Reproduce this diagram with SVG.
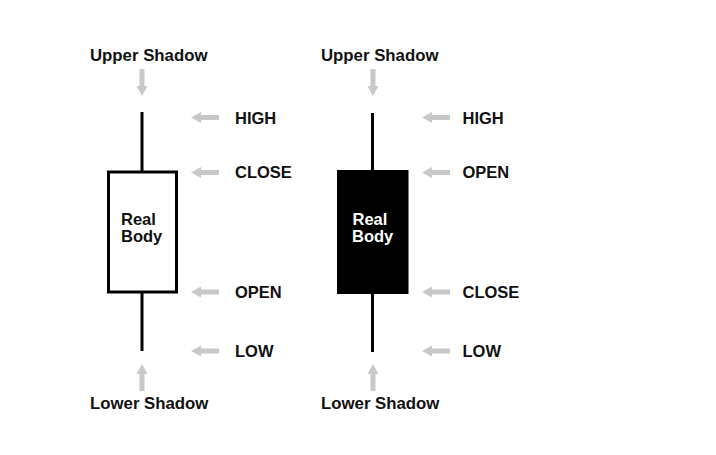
<svg xmlns="http://www.w3.org/2000/svg" width="716" height="455" viewBox="0 0 716 455">
<style>
text{font-family:"Liberation Sans",Arial,sans-serif;font-weight:bold;font-size:16.5px;fill:#111}
.t{font-size:16.8px}
.w{stroke:#000;stroke-width:3;fill:none}
.ar{fill:#c8c8c8}
</style>
<defs>
<path id="la" d="M0,0 L10,-5.5 L10,-2.5 L28,-2.5 L28,2.5 L10,2.5 L10,5.5 Z"/>
<path id="da" d="M0,0 L-5.5,-10 L-2.5,-10 L-2.5,-27 L2.5,-27 L2.5,-10 L5.5,-10 Z"/>
<path id="ua" d="M0,0 L-5.5,10 L-2.5,10 L-2.5,27 L2.5,27 L2.5,10 L5.5,10 Z"/>
</defs>
<rect width="716" height="455" fill="#fff"/>
<g id="bull">
<line class="w" x1="142" y1="112" x2="142" y2="172"/>
<line class="w" x1="142" y1="292" x2="142" y2="351"/>
<rect class="w" x="108.5" y="172" width="68" height="120"/>
<text x="121" y="225">Real</text>
<text x="121" y="242">Body</text>
</g>
<g id="bear">
<line class="w" x1="372.5" y1="113" x2="372.5" y2="171"/>
<line class="w" x1="372.5" y1="294" x2="372.5" y2="352"/>
<rect x="337" y="170" width="71.5" height="124" fill="#000"/>
<text x="352.5" y="225" style="fill:#fff">Real</text>
<text x="352" y="242" style="fill:#fff">Body</text>
</g>
<g id="labels-left">
<text class="t" x="90" y="61">Upper Shadow</text>
<text class="t" x="90" y="408.5">Lower Shadow</text>
<text x="235" y="123.5">HIGH</text>
<text x="235" y="178">CLOSE</text>
<text x="235" y="298">OPEN</text>
<text x="235" y="357">LOW</text>
</g>
<g id="labels-right">
<text class="t" x="321" y="61">Upper Shadow</text>
<text class="t" x="321" y="408.5">Lower Shadow</text>
<text x="462.5" y="123.5">HIGH</text>
<text x="462.5" y="178">OPEN</text>
<text x="462.5" y="298">CLOSE</text>
<text x="462.5" y="357">LOW</text>
</g>
<g id="connectors" class="ar">
<use href="#da" x="142" y="96"/>
<use href="#ua" x="142" y="364"/>
<use href="#la" x="191" y="117.5"/>
<use href="#la" x="191" y="172.5"/>
<use href="#la" x="191" y="292"/>
<use href="#la" x="191" y="351"/>
<use href="#da" x="373" y="96"/>
<use href="#ua" x="373" y="364"/>
<use href="#la" x="422" y="117.5"/>
<use href="#la" x="422" y="172.5"/>
<use href="#la" x="422" y="292"/>
<use href="#la" x="422" y="351"/>
</g>
</svg>
